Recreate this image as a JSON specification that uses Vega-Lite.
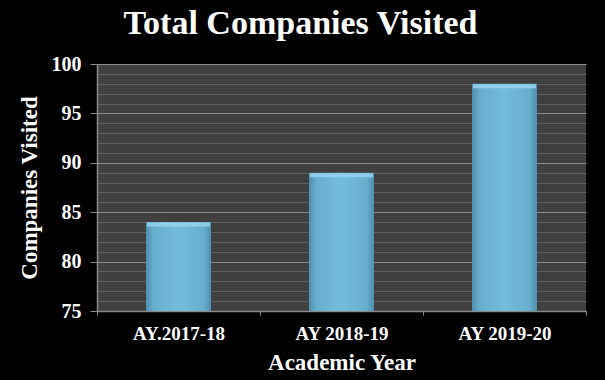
{
  "$schema": "https://vega.github.io/schema/vega-lite/v6.json",
  "autosize": "none",
  "width": 489,
  "height": 247,
  "padding": {"left": 97, "top": 64, "right": 19, "bottom": 69},
  "background": "#000000",
  "view": {"fill": "#404040", "stroke": null},
  "title": {
    "text": "Total Companies Visited",
    "font": "Liberation Serif",
    "fontWeight": "bold",
    "fontSize": 34,
    "color": "#ffffff",
    "anchor": "middle",
    "dx": -41,
    "offset": 13
  },
  "data": {
    "values": [
      {"year": "AY.2017-18", "companies": 84},
      {"year": "AY 2018-19", "companies": 89},
      {"year": "AY 2019-20", "companies": 98}
    ]
  },
  "resolve": {"axis": {"y": "independent"}},
  "layer": [
    {
      "mark": {"type": "rule", "opacity": 0},
      "encoding": {
        "y": {
          "field": "companies",
          "type": "quantitative",
          "scale": {"domain": [75, 100], "nice": false, "zero": false},
          "axis": {
            "orient": "right",
            "values": [75,76,77,78,79,80,81,82,83,84,85,86,87,88,89,90,91,92,93,94,95,96,97,98,99,100],
            "grid": true,
            "gridColor": "#5f5f5f",
            "gridWidth": 1,
            "labels": false,
            "ticks": false,
            "domain": false,
            "title": null
          }
        }
      }
    },
    {
      "mark": {
        "type": "bar",
        "width": 65,
        "color": {
          "x1": 0, "y1": 0, "x2": 1, "y2": 0,
          "gradient": "linear",
          "stops": [
            {"offset": 0, "color": "#4f8fae"},
            {"offset": 0.12, "color": "#68afcf"},
            {"offset": 0.5, "color": "#74bcdb"},
            {"offset": 0.88, "color": "#68afcf"},
            {"offset": 1, "color": "#4f8fae"}
          ]
        }
      },
      "encoding": {
        "x": {
          "field": "year",
          "type": "nominal",
          "sort": null,
          "scale": {"paddingInner": 0, "paddingOuter": 0},
          "axis": {
            "title": "Academic Year",
            "titleFont": "Liberation Serif",
            "titleFontWeight": "bold",
            "titleFontSize": 23,
            "titleColor": "#ffffff",
            "titlePadding": 8,
            "labelFont": "Liberation Serif",
            "labelFontWeight": "bold",
            "labelFontSize": 19,
            "labelColor": "#ffffff",
            "labelAngle": 0,
            "labelPadding": 9,
            "tickBand": "extent",
            "tickColor": "#8a8a8a",
            "tickSize": 4,
            "domainColor": "#8a8a8a",
            "domainWidth": 1.5,
            "grid": false
          }
        },
        "y": {
          "field": "companies",
          "type": "quantitative",
          "scale": {"domain": [75, 100], "nice": false, "zero": false},
          "axis": {
            "orient": "left",
            "values": [75, 80, 85, 90, 95, 100],
            "grid": true,
            "gridColor": "#8c8c8c",
            "gridWidth": 1,
            "title": "Companies Visited",
            "titleFont": "Liberation Serif",
            "titleFontWeight": "bold",
            "titleFontSize": 23,
            "titleColor": "#ffffff",
            "titlePadding": 10,
            "labelFont": "Liberation Serif",
            "labelFontWeight": "bold",
            "labelFontSize": 20,
            "labelColor": "#ffffff",
            "labelPadding": 9,
            "tickColor": "#8a8a8a",
            "tickSize": 7,
            "domainColor": "#8a8a8a",
            "domainWidth": 1.5
          }
        },
        "y2": {"datum": 75}
      }
    },
    {
      "mark": {"type": "tick", "color": "#93d2ec", "thickness": 4, "size": 63, "yOffset": 2.5, "opacity": 0.9},
      "encoding": {
        "x": {"field": "year", "type": "nominal", "sort": null},
        "y": {"field": "companies", "type": "quantitative", "axis": null}
      }
    }
  ]
}
